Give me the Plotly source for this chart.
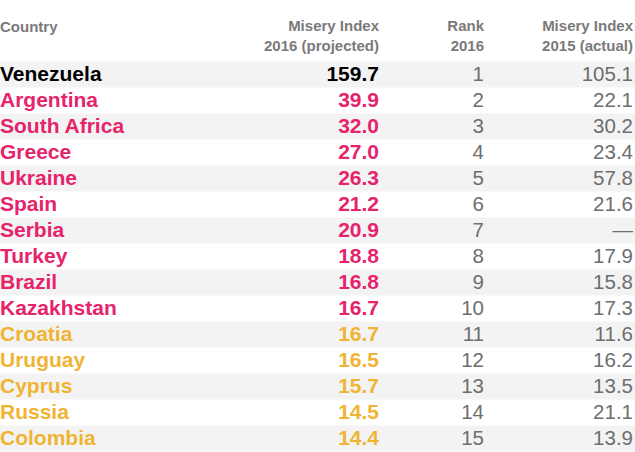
"""Misery index table drawn with scatter text on a pixel-scaled axis."""

import plotly.graph_objects as go

countries = ["Venezuela", "Argentina", "South Africa", "Greece", "Ukraine", "Spain",
             "Serbia", "Turkey", "Brazil", "Kazakhstan", "Croatia", "Uruguay",
             "Cyprus", "Russia", "Colombia"]
misery_2016 = [159.7, 39.9, 32.0, 27.0, 26.3, 21.2, 20.9, 18.8, 16.8, 16.7,
               16.7, 16.5, 15.7, 14.5, 14.4]
rank_2016 = [1, 2, 3, 4, 5, 6, 7, 8, 9, 10, 11, 12, 13, 14, 15]
misery_2015 = [105.1, 22.1, 30.2, 23.4, 57.8, 21.6, None, 17.9, 15.8, 17.3,
               11.6, 16.2, 13.5, 21.1, 13.9]
headers = ["Country", "Misery Index<br>2016 (projected)", "Rank<br>2016",
           "Misery Index<br>2015 (actual)"]

W, H = 635, 452
ROW_H = 26
FIRST_ROW = 74.5  # pixel centre of first data row
TEXT_DY = 0.06    # nudge text down a touch within its row
FONT = "Liberation Sans, Arial, sans-serif"
BLACK, PINK, AMBER, GREY, HEAD, SHADE = "#000000", "#e6236b", "#f0b434", "#6e6e6e", "#7a7a7a", "#f3f3f3"

# column anchors (x in pixels): country left edge, then right edges
X_COUNTRY, X_2016, X_RANK, X_2015 = 0, 379, 484, 633

rows = list(range(len(countries)))
text_y = [r + TEXT_DY for r in rows]


def row_colour(rank):
    if rank == 1:
        return BLACK
    return PINK if rank <= 10 else AMBER


colours = [row_colour(r) for r in rank_2016]

fig = go.Figure()

fig.add_trace(go.Scatter(
    x=[X_COUNTRY] * len(rows), y=text_y, mode="text", text=countries,
    textposition="middle right",
    textfont=dict(family=FONT, size=21, color=colours, weight="bold"),
    cliponaxis=False, hoverinfo="skip"))
fig.add_trace(go.Scatter(
    x=[X_2016] * len(rows), y=text_y, mode="text",
    text=[f"{v:.1f}" for v in misery_2016], textposition="middle left",
    textfont=dict(family=FONT, size=21, color=colours, weight="bold"),
    cliponaxis=False, hoverinfo="skip"))
fig.add_trace(go.Scatter(
    x=[X_RANK] * len(rows), y=text_y, mode="text",
    text=[str(v) for v in rank_2016], textposition="middle left",
    textfont=dict(family=FONT, size=20.5, color=GREY),
    cliponaxis=False, hoverinfo="skip"))
fig.add_trace(go.Scatter(
    x=[X_2015] * len(rows), y=text_y, mode="text",
    text=["\u2014" if v is None else f"{v:.1f}" for v in misery_2015],
    textposition="middle left",
    textfont=dict(family=FONT, size=20.5, color=GREY),
    cliponaxis=False, hoverinfo="skip"))

# header
fig.add_trace(go.Scatter(
    x=[X_COUNTRY], y=[-1.79], mode="text", text=[headers[0]],
    textposition="middle right",
    textfont=dict(family=FONT, size=15, color=HEAD, weight="bold"),
    cliponaxis=False, hoverinfo="skip"))
fig.add_trace(go.Scatter(
    x=[X_2016, X_RANK, X_2015], y=[-1.44] * 3, mode="text", text=headers[1:],
    textposition="middle left",
    textfont=dict(family=FONT, size=15, color=HEAD, weight="bold"),
    cliponaxis=False, hoverinfo="skip"))

# zebra shading on every other row
for i in rows[::2]:
    fig.add_shape(type="rect", xref="paper", x0=0, x1=1, y0=i - 0.5, y1=i + 0.5,
                  fillcolor=SHADE, line_width=0, layer="below")

fig.update_layout(
    width=W, height=H, margin=dict(l=0, r=0, t=0, b=0),
    paper_bgcolor="white", plot_bgcolor="white", showlegend=False,
    xaxis=dict(range=[0, W], visible=False, fixedrange=True),
    yaxis=dict(range=[(H - FIRST_ROW) / ROW_H, -FIRST_ROW / ROW_H],
               visible=False, fixedrange=True),
)

# drop the browser's default body margin so the figure sits flush in the window
fig.write_html("out.html", config={"displayModeBar": False},
               post_script="document.body.style.margin='0';")
